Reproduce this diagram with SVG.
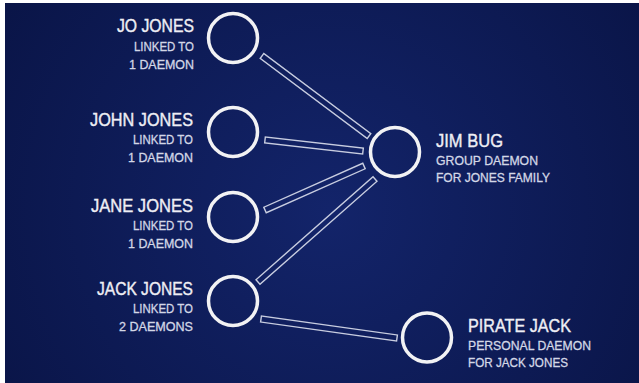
<svg xmlns="http://www.w3.org/2000/svg" width="639" height="383" viewBox="0 0 639 383">
  <defs>
    <radialGradient id="bg" cx="330" cy="210" r="380" gradientUnits="userSpaceOnUse">
      <stop offset="0" stop-color="#13246a"/>
      <stop offset="1" stop-color="#0a1548"/>
    </radialGradient>
    <style>
      .node circle { fill: none; stroke: #f2f2f4; stroke-width: 3.5; }
      .t { font-family: "Liberation Sans", Arial, sans-serif; font-size: 19px; fill: #eeeef4; stroke: #eeeef4; stroke-width: 0.4; }
      .s { font-family: "Liberation Sans", Arial, sans-serif; font-size: 13px; fill: #d3d7e6; stroke: #d3d7e6; stroke-width: 0.3; }
      .l .t, .l .s { text-anchor: end; }
      #connectors rect { fill: none; stroke: #c8cde0; stroke-width: 1.4; }
    </style>
  </defs>
  <rect x="0" y="0" width="639" height="383" fill="#ffffff"/>
  <rect x="5" y="3" width="634" height="380" fill="url(#bg)"/>

  <g id="connectors">
    <rect x="-66.8" y="-3" width="133.6" height="6" transform="translate(315.5 96) rotate(36.79)"/>
    <rect x="-49.3" y="-3" width="98.6" height="6" transform="translate(314 145.5) rotate(6.4)"/>
    <rect x="-54.15" y="-3" width="108.3" height="6" transform="translate(314.5 188) rotate(-23.96)"/>
    <rect x="-77.95" y="-3" width="155.9" height="6" transform="translate(316.5 230.5) rotate(-41.36)"/>
    <rect x="-68.65" y="-3" width="137.3" height="6" transform="translate(329 328.5) rotate(7.95)"/>
  </g>

  <g id="jo-jones" class="node l">
    <circle cx="233" cy="38" r="24.5"/>
    <text class="t" x="194" y="32" textLength="77" lengthAdjust="spacingAndGlyphs">JO JONES</text>
    <text class="s" x="194" y="51" textLength="60" lengthAdjust="spacingAndGlyphs">LINKED TO</text>
    <text class="s" x="194" y="69" textLength="65" lengthAdjust="spacingAndGlyphs">1 DAEMON</text>
  </g>

  <g id="john-jones" class="node l">
    <circle cx="233" cy="132" r="24.5"/>
    <text class="t" x="193" y="126" textLength="103" lengthAdjust="spacingAndGlyphs">JOHN JONES</text>
    <text class="s" x="193" y="144" textLength="60" lengthAdjust="spacingAndGlyphs">LINKED TO</text>
    <text class="s" x="193" y="162" textLength="65" lengthAdjust="spacingAndGlyphs">1 DAEMON</text>
  </g>

  <g id="jane-jones" class="node l">
    <circle cx="233" cy="217" r="24.5"/>
    <text class="t" x="193" y="212" textLength="102" lengthAdjust="spacingAndGlyphs">JANE JONES</text>
    <text class="s" x="193" y="230" textLength="60" lengthAdjust="spacingAndGlyphs">LINKED TO</text>
    <text class="s" x="193" y="248" textLength="65" lengthAdjust="spacingAndGlyphs">1 DAEMON</text>
  </g>

  <g id="jack-jones" class="node l">
    <circle cx="233" cy="301" r="24.5"/>
    <text class="t" x="193" y="295" textLength="96" lengthAdjust="spacingAndGlyphs">JACK JONES</text>
    <text class="s" x="193" y="313" textLength="60" lengthAdjust="spacingAndGlyphs">LINKED TO</text>
    <text class="s" x="193" y="331" textLength="74" lengthAdjust="spacingAndGlyphs">2 DAEMONS</text>
  </g>

  <g id="jim-bug" class="node">
    <circle cx="395" cy="152" r="24.5"/>
    <text class="t" x="436" y="147" textLength="67" lengthAdjust="spacingAndGlyphs">JIM BUG</text>
    <text class="s" x="436" y="165" textLength="102" lengthAdjust="spacingAndGlyphs">GROUP DAEMON</text>
    <text class="s" x="436" y="182" textLength="114" lengthAdjust="spacingAndGlyphs">FOR JONES FAMILY</text>
  </g>

  <g id="pirate-jack" class="node">
    <circle cx="427" cy="337.5" r="24.5"/>
    <text class="t" x="468" y="332" textLength="103" lengthAdjust="spacingAndGlyphs">PIRATE JACK</text>
    <text class="s" x="468" y="350" textLength="123" lengthAdjust="spacingAndGlyphs">PERSONAL DAEMON</text>
    <text class="s" x="468" y="367" textLength="100" lengthAdjust="spacingAndGlyphs">FOR JACK JONES</text>
  </g>
</svg>
